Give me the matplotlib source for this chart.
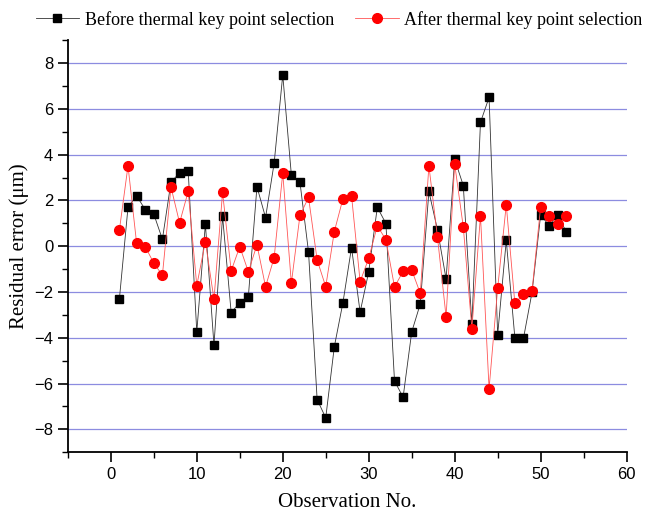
import matplotlib
matplotlib.use("Agg")
import matplotlib.pyplot as plt
from matplotlib.ticker import MultipleLocator

# residual error data (um)
obs = list(range(1, 54))
before = [-2.3, 1.7, 2.2, 1.6, 1.4, 0.3, 2.8, 3.2, 3.3, -3.75,
          0.97, -4.33, 1.3, -2.9, -2.47, -2.2, 2.6, 1.25, 3.63, 7.48,
          3.12, 2.8, -0.26, -6.7, -7.5, -4.39, -2.47, -0.06, -2.88, -1.12,
          1.7, 0.99, -5.89, -6.6, -3.75, -2.52, 2.39, 0.71, -1.43, 3.8,
          2.65, -3.4, 5.41, 6.5, -3.87, 0.25, -4.0, -4.03, -2.01, 1.37,
          0.89, 1.34, 0.61]
after = [0.71, 3.51, 0.13, -0.02, -0.74, -1.27, 2.58, 1.02, 2.39, -1.72,
         0.2, -2.32, 2.35, -1.08, -0.02, -1.12, 0.06, -1.77, -0.5, 3.19,
         -1.62, 1.34, 2.13, -0.6, -1.77, 0.64, 2.07, 2.21, -1.55, -0.53,
         0.89, 0.28, -1.78, -1.1, -1.04, -2.06, 3.51, 0.39, -3.09, 3.59,
         0.84, -3.6, 1.33, -6.23, -1.84, 1.81, -2.5, -2.09, -1.94, 1.73,
         1.3, 0.96, 1.3]

labels = ["Before thermal key point selection", "After thermal key point selection"]

serif = "Liberation Serif"
sans = "Liberation Sans"

fig = plt.figure(figsize=(6.46, 5.15), dpi=100)
ax = fig.add_axes([0.105, 0.122, 0.865, 0.8])

for y in range(-8, 9, 2):
    ax.axhline(y, color="#8c8ce0", linewidth=0.9, zorder=0)

ax.plot(obs, before, color="#333333", linewidth=0.6, marker="s", markersize=6,
        markerfacecolor="black", markeredgecolor="black", label=labels[0], zorder=2)
ax.plot(obs, after, color="#ff5555", linewidth=0.6, marker="o", markersize=7,
        markerfacecolor="red", markeredgecolor="red", label=labels[1], zorder=3)

ax.set_xlim(-5, 60)
ax.set_ylim(-9, 9)
ax.xaxis.set_major_locator(MultipleLocator(10))
ax.xaxis.set_minor_locator(MultipleLocator(5))
ax.yaxis.set_major_locator(MultipleLocator(2))
ax.yaxis.set_minor_locator(MultipleLocator(1))
ax.tick_params(which="major", direction="out", length=7, width=1.2, labelsize=12)
ax.tick_params(which="minor", direction="out", length=4, width=1)
for lbl in ax.get_xticklabels() + ax.get_yticklabels():
    lbl.set_fontfamily(sans)

ax.spines["top"].set_visible(False)
ax.spines["right"].set_visible(False)
ax.spines["left"].set_linewidth(1.3)
ax.spines["bottom"].set_linewidth(1.3)

ax.set_xlabel("Observation No.", fontfamily=serif, fontsize=15, labelpad=8)
ax.set_ylabel("Residual error (\u03bcm)", fontfamily=serif, fontsize=15, labelpad=4)

fig.legend(loc="center", bbox_to_anchor=(0.525, 0.962), ncol=2, frameon=False,
           prop={"family": serif, "size": 13}, handlelength=2.4,
           handletextpad=0.3, columnspacing=1.2)

fig.savefig("out.png", dpi=100)
